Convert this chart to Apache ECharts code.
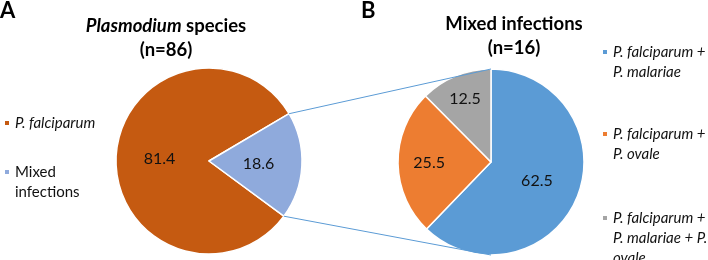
<!DOCTYPE html>
<html>
<head>
<meta charset="utf-8">
<script src="https://cdn.jsdelivr.net/npm/echarts@6/dist/echarts.min.js"></script>
<style>
  html, body { margin: 0; padding: 0; background: #fff; }
  #chart { width: 708px; height: 260px; }
</style>
</head>
<body>
<div id="chart"></div>
<script>
  // A: all Plasmodium species
  const speciesNames = ['P. falciparum', 'Mixed\ninfections']
  const speciesValues = [81.4, 18.6]
  // B: breakdown of mixed infections
  const mixedNames = ['P. falciparum +\nP. malariae', 'P. falciparum +\nP. ovale', 'P. falciparum +\nP. malariae + P.\novale']
  const mixedValues = [62.5, 25.5, 12.5]

  const font = 'Lato'
  const leftCenter = [209, 161]
  const rightCenter = [491, 162]
  const radius = 93
  const leftStart = -36.4
  const lineH = 20
  const leftColors = ['#C55A11', '#8FAADC']
  const rightColors = ['#5B9BD5', '#ED7D31', '#A5A5A5']

  let chart = echarts.init(document.getElementById('chart'))

  // edges of the "mixed" slice, used for the connector lines
  let total = speciesValues.reduce((a, b) => a + b, 0)
  let mixedSpan = speciesValues[1] / total * 360
  function arcPoint (c, deg) {
    let a = deg * Math.PI / 180
    return [c[0] + radius * Math.cos(a), c[1] - radius * Math.sin(a)]
  }
  let pTop = arcPoint(leftCenter, leftStart + mixedSpan)
  let pBot = arcPoint(leftCenter, leftStart)

  // one legend per entry; blank lines in front keep the marker on the first text line
  function makeLegend (name, left, firstLineY, italic) {
    let n = name.split('\n').length
    return {
      data: [{ name: name }],
      left: left,
      top: firstLineY - (2 * n - 1) * lineH / 2,
      orient: 'vertical',
      padding: 0,
      icon: 'rect',
      itemWidth: 6,
      itemHeight: 6,
      selectedMode: false,
      formatter: function (nm) { return '\n'.repeat(n - 1) + nm },
      textStyle: {
        fontFamily: font,
        fontSize: 15,
        fontStyle: italic ? 'italic' : 'normal',
        color: '#111',
        lineHeight: lineH
      }
    }
  }
  let legendPos = [[3, 123], [3, 172], [601, 52], [601, 134], [601, 218]]
  let allNames = speciesNames.concat(mixedNames)
  let legends = allNames.map((name, i) => makeLegend(name, legendPos[i][0], legendPos[i][1], name.indexOf('P.') === 0))

  let labelScale = [1, 1.25, 1.38]

  chart.setOption({
    animation: false,
    legend: legends,
    graphic: [
      { type: 'text', x: 0, y: 0, style: { text: 'A', fontFamily: font, fontWeight: 'bold', fontSize: 22, fill: '#000' } },
      { type: 'text', x: 361, y: 0, style: { text: 'B', fontFamily: font, fontWeight: 'bold', fontSize: 22, fill: '#000' } },
      {
        type: 'text', x: 166, y: 14,
        style: {
          text: '{i|Plasmodium}{b| species}\n{b|(n=86)}',
          align: 'center',
          rich: {
            i: { fontFamily: font, fontWeight: 'bold', fontStyle: 'italic', fontSize: 18.5, lineHeight: 24, fill: '#000' },
            b: { fontFamily: font, fontWeight: 'bold', fontSize: 18.5, lineHeight: 24, fill: '#000' }
          }
        }
      },
      {
        type: 'text', x: 514, y: 12,
        style: {
          text: 'Mixed infections\n(n=16)',
          align: 'center',
          fontFamily: font, fontWeight: 'bold', fontSize: 18.5, lineHeight: 24, fill: '#000'
        }
      },
      { type: 'line', z: 10, shape: { x1: pTop[0], y1: pTop[1], x2: rightCenter[0], y2: rightCenter[1] - radius }, style: { stroke: '#5B9BD5', lineWidth: 1 } },
      { type: 'line', z: 10, shape: { x1: pBot[0], y1: pBot[1], x2: rightCenter[0], y2: rightCenter[1] + radius }, style: { stroke: '#5B9BD5', lineWidth: 1 } }
    ],
    series: [
      {
        type: 'pie',
        center: leftCenter,
        radius: radius,
        startAngle: leftStart,
        clockwise: true,
        silent: true,
        itemStyle: { borderColor: '#fff', borderWidth: 1.5 },
        label: { position: 'inside', formatter: '{c}', fontFamily: font, fontSize: 16, color: '#111' },
        labelLine: { show: false },
        emphasis: { disabled: true },
        data: speciesNames.map((n, i) => ({ name: n, value: speciesValues[i], itemStyle: { color: leftColors[i] } }))
      },
      {
        type: 'pie',
        center: rightCenter,
        radius: radius,
        startAngle: 90,
        clockwise: true,
        silent: true,
        itemStyle: { borderColor: '#fff', borderWidth: 1.5 },
        label: { position: 'inside', formatter: '{c}', fontFamily: font, fontSize: 16, color: '#111' },
        labelLine: { show: false },
        labelLayout: function (p) {
          let r = p.labelRect
          let dx = r.x + r.width / 2 - rightCenter[0]
          let dy = r.y + r.height / 2 - rightCenter[1]
          let k = labelScale[p.dataIndex] - 1
          return { dx: dx * k, dy: dy * k }
        },
        emphasis: { disabled: true },
        data: mixedNames.map((n, i) => ({ name: n, value: mixedValues[i], itemStyle: { color: rightColors[i] } }))
      }
    ]
  })
</script>
</body>
</html>
